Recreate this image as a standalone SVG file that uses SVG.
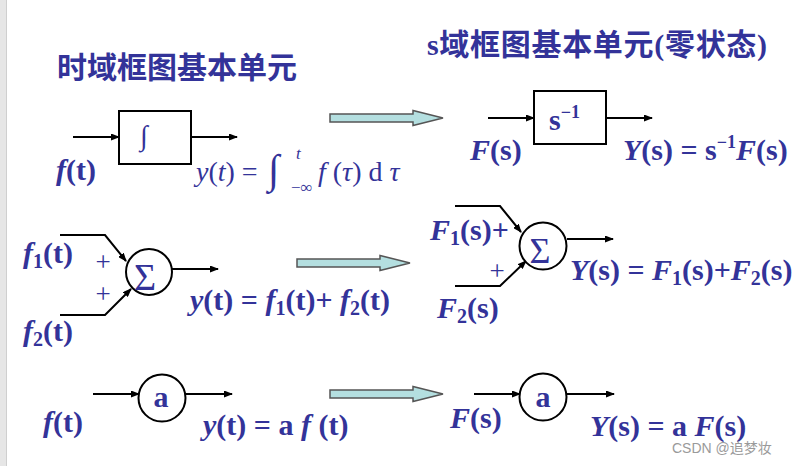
<svg xmlns="http://www.w3.org/2000/svg" width="795" height="466" viewBox="0 0 795 466">
<style>
.t{font-family:"Liberation Serif","Noto Sans CJK SC",serif;fill:#333399;font-weight:bold;font-size:30px}
.title{font-family:"Liberation Serif","Noto Sans CJK SC",serif;fill:#333399;font-weight:bold;font-size:30px}
.m{font-family:"Liberation Serif",serif;fill:#333399;font-size:28px}
.i{font-style:italic}
.ar{stroke:#000;stroke-width:2;fill:none;marker-end:url(#ah)}
.node{stroke:#000;stroke-width:2;fill:#fff}
.big{fill:#b4dfe0;stroke:#555;stroke-width:1.5}
.wm{font-family:"Liberation Sans","Noto Sans CJK SC",sans-serif;fill:#9a9a9a;font-size:14px}
</style>
<defs>
<marker id="ah" markerUnits="userSpaceOnUse" markerWidth="9" markerHeight="7" refX="8" refY="3.5" orient="auto">
<path d="M0,0 L9,3.5 L0,7 z" fill="#000"/>
</marker>
<path id="bigarrow" d="M0,-4 L83,-4 L83,-7.5 L113,0 L83,7.5 L83,4 L0,4 z"/>
</defs>
<rect x="0" y="0" width="795" height="466" fill="#fff"/>
<rect x="0" y="0" width="6" height="466" fill="#e6e6e6"/>
<line x1="6.5" y1="0" x2="6.5" y2="466" stroke="#cfcfcf" stroke-width="1"/>

<g id="titles">
<text class="title" x="57" y="78">时域框图基本单元</text>
<text class="title" x="427" y="55" style="letter-spacing:0.7px">s域框图基本单元(零状态)</text>
</g>

<g id="connectors">
<line class="ar" x1="73" y1="137" x2="119" y2="137"/>
<line class="ar" x1="191" y1="137" x2="237" y2="137"/>
<line class="ar" x1="488" y1="118" x2="534" y2="118"/>
<line class="ar" x1="606" y1="118" x2="652" y2="118"/>
<polyline class="ar" points="60,235 105,235 126,261"/>
<polyline class="ar" points="60,315 105,315 131,289"/>
<line class="ar" x1="172" y1="269" x2="218" y2="269"/>
<polyline class="ar" points="455,206 500,206 521,232"/>
<polyline class="ar" points="455,286 500,286 526,261"/>
<line class="ar" x1="567" y1="239" x2="613" y2="239"/>
<line class="ar" x1="93" y1="394" x2="139" y2="394"/>
<line class="ar" x1="186" y1="394" x2="232" y2="394"/>
<line class="ar" x1="474" y1="394" x2="520" y2="394"/>
<line class="ar" x1="567" y1="394" x2="614" y2="394"/>
<use href="#bigarrow" class="big" transform="translate(330,118)"/>
<use href="#bigarrow" class="big" transform="translate(297,263)"/>
<use href="#bigarrow" class="big" transform="translate(330,394)"/>
</g>

<g id="integrator">
<rect class="node" x="119" y="111" width="72" height="53"/>
<text class="m" x="140" y="145">∫</text>
</g>
<g id="integrator-s">
<rect class="node" x="534" y="91" width="72" height="53"/>
<text class="t" x="549" y="130">s<tspan font-size="18" dy="-12">−1</tspan></text>
</g>
<g id="adder">
<circle class="node" cx="149" cy="272" r="23"/>
<text class="m" x="145" y="290" text-anchor="middle" style="font-size:38px">Σ</text>
</g>
<g id="adder-s">
<circle class="node" cx="543" cy="246" r="23.5"/>
<text class="m" x="540" y="263" text-anchor="middle" style="font-size:36px">Σ</text>
</g>
<g id="scaler">
<circle class="node" cx="162" cy="398" r="23.5"/>
<text class="t" x="161" y="407" text-anchor="middle">a</text>
</g>
<g id="scaler-s">
<circle class="node" cx="543" cy="397" r="23.5"/>
<text class="t" x="543" y="407" text-anchor="middle">a</text>
</g>

<g id="labels">
<text class="t" x="56" y="180"><tspan class="i">f</tspan>(t)</text>
<text class="m" x="196" y="181"><tspan class="i">y</tspan>(<tspan class="i">t</tspan>) =</text>
<text class="m" x="268" y="183" style="font-size:41px">∫</text>
<text class="m i" x="296" y="159" style="font-size:17px">t</text>
<text class="m" x="291" y="193" style="font-size:17px">−∞</text>
<text class="m" x="318" y="181"><tspan class="i">f</tspan> (<tspan class="i">τ</tspan>) d <tspan class="i">τ</tspan></text>

<text class="t" x="470" y="160"><tspan class="i">F</tspan>(s)</text>
<text class="t" x="623" y="160"><tspan class="i">Y</tspan>(s) = s<tspan font-size="18" dy="-12">−1</tspan><tspan class="i" dy="12">F</tspan>(s)</text>

<text class="t" x="23" y="263"><tspan class="i">f</tspan><tspan font-size="20" dy="5">1</tspan><tspan dy="-5">(t)</tspan></text>
<text class="t" x="23" y="341"><tspan class="i">f</tspan><tspan font-size="20" dy="5">2</tspan><tspan dy="-5">(t)</tspan></text>
<text class="m" x="103" y="271" text-anchor="middle" style="font-size:27px">+</text>
<text class="m" x="103" y="303" text-anchor="middle" style="font-size:27px">+</text>
<text class="t" x="190" y="310"><tspan class="i">y</tspan>(t) = <tspan class="i">f</tspan><tspan font-size="20" dy="5">1</tspan><tspan dy="-5">(t)+ </tspan><tspan class="i">f</tspan><tspan font-size="20" dy="5">2</tspan><tspan dy="-5">(t)</tspan></text>

<text class="t" x="430" y="240"><tspan class="i">F</tspan><tspan font-size="20" dy="5">1</tspan><tspan dy="-5">(s)+</tspan></text>
<text class="m" x="497" y="280" text-anchor="middle" style="font-size:27px">+</text>
<text class="t" x="437" y="318"><tspan class="i">F</tspan><tspan font-size="20" dy="5">2</tspan><tspan dy="-5">(s)</tspan></text>
<text class="t" x="570" y="280"><tspan class="i">Y</tspan>(s) = <tspan class="i">F</tspan><tspan font-size="20" dy="5">1</tspan><tspan dy="-5">(s)+</tspan><tspan class="i">F</tspan><tspan font-size="20" dy="5">2</tspan><tspan dy="-5">(s)</tspan></text>

<text class="t" x="43" y="432"><tspan class="i">f</tspan>(t)</text>
<text class="t" x="203" y="435"><tspan class="i">y</tspan>(t) = a <tspan class="i">f</tspan> (t)</text>
<text class="t" x="450" y="428"><tspan class="i">F</tspan>(s)</text>
<text class="t" x="590" y="436"><tspan class="i">Y</tspan>(s) = a <tspan class="i">F</tspan>(s)</text>
</g>
<text class="wm" x="672" y="453">CSDN @追梦妆</text>
</svg>
